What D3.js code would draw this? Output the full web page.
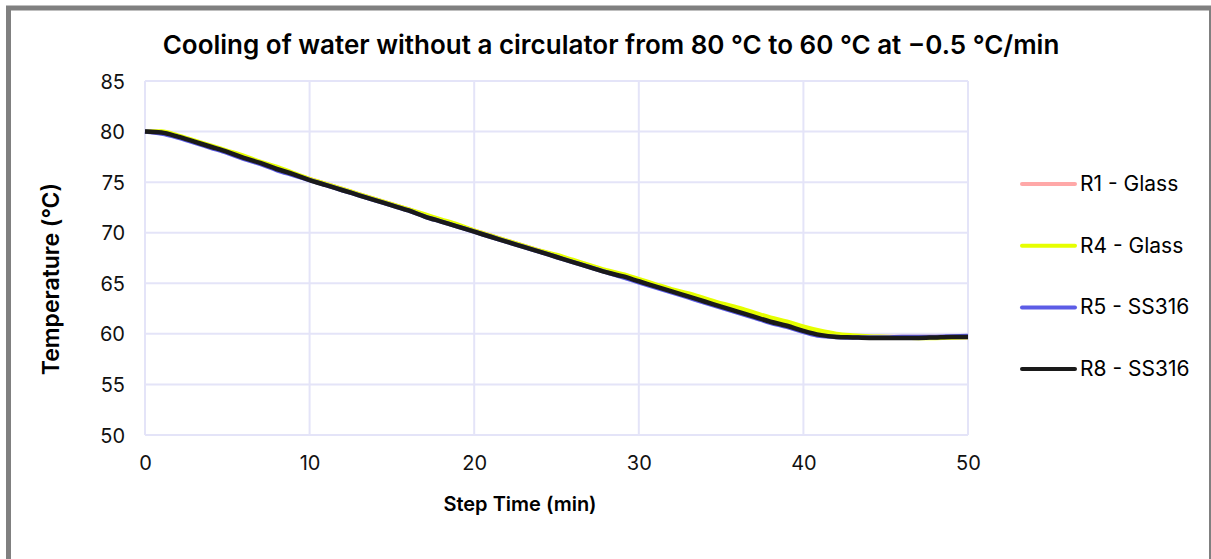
<!DOCTYPE html>
<html lang="en">
<head>
  <meta charset="UTF-8">
  <title>Cooling of water</title>
  <script src="https://d3js.org/d3.v7.min.js"></script>
  <style>
    body { margin: 0; background: #fff; }
    svg { display: block; font-family: Inter, "Open Sans", sans-serif; }
    .grid line { stroke: #e4e4f8; stroke-width: 2; }
    .title { font-size: 26px; font-weight: 600; }
    .axis-label { font-weight: 600; }
    .legend text { font-size: 21px; }
  </style>
</head>
<body>
  <div id="chart"></div>
  <script>
    // Data (minutes, °C)
    const steps = [0, 1, 2, 3, 4, 5, 6, 7, 8, 9, 10, 11, 12, 13, 14, 15, 16, 17, 18, 19, 20,
      21, 22, 23, 24, 25, 26, 27, 28, 29, 30, 31, 32, 33, 34, 35, 36, 37, 38, 39, 40,
      41, 42, 43, 44, 45, 46, 47, 48, 49, 50];
    const r1Glass = [80.0, 79.9, 79.5, 79.0, 78.5, 78.0, 77.5, 76.9, 76.4, 75.8,
      75.3, 74.8, 74.3, 73.8, 73.3, 72.8, 72.3, 71.7, 71.2, 70.7,
      70.2, 69.7, 69.2, 68.7, 68.2, 67.7, 67.2, 66.7, 66.2, 65.8,
      65.3, 64.8, 64.3, 63.8, 63.3, 62.9, 62.4, 61.9, 61.4, 61.0,
      60.5, 60.1, 59.85, 59.75, 59.7, 59.7, 59.7, 59.7, 59.7, 59.7, 59.7];
    const r4Glass = [80.0, 80.0, 79.6, 79.1, 78.6, 78.1, 77.6, 77.0, 76.5, 75.9,
      75.3, 74.8, 74.3, 73.8, 73.3, 72.8, 72.3, 71.8, 71.3, 70.8,
      70.2, 69.7, 69.2, 68.7, 68.2, 67.8, 67.3, 66.8, 66.3, 65.9,
      65.4, 64.9, 64.4, 64.0, 63.5, 63.0, 62.6, 62.1, 61.6, 61.2,
      60.7, 60.3, 60.0, 59.85, 59.75, 59.7, 59.65, 59.6, 59.6, 59.65, 59.7];
    const r5Ss316 = [80.0, 79.8, 79.4, 78.9, 78.4, 77.9, 77.3, 76.8, 76.2, 75.7,
      75.2, 74.7, 74.2, 73.7, 73.2, 72.7, 72.2, 71.6, 71.1, 70.6,
      70.1, 69.6, 69.1, 68.6, 68.1, 67.6, 67.1, 66.6, 66.1, 65.6,
      65.1, 64.6, 64.1, 63.6, 63.1, 62.6, 62.1, 61.6, 61.1, 60.7,
      60.2, 59.8, 59.7, 59.65, 59.65, 59.65, 59.7, 59.7, 59.7, 59.75, 59.8];
    const r8Ss316 = [80.0, 79.9, 79.5, 79.0, 78.5, 78.0, 77.4, 76.9, 76.3, 75.8,
      75.2, 74.7, 74.2, 73.7, 73.2, 72.7, 72.2, 71.6, 71.1, 70.6,
      70.1, 69.6, 69.1, 68.6, 68.1, 67.6, 67.1, 66.6, 66.1, 65.7,
      65.2, 64.7, 64.2, 63.7, 63.2, 62.7, 62.2, 61.7, 61.2, 60.8,
      60.3, 59.9, 59.7, 59.65, 59.6, 59.6, 59.6, 59.6, 59.65, 59.7, 59.7];
    const seriesNames = ['R1 - Glass', 'R4 - Glass', 'R5 - SS316', 'R8 - SS316'];
    const seriesValues = [r1Glass, r4Glass, r5Ss316, r8Ss316];
    const colors = ['#ffa8a8', '#e6ff00', '#5c5ce6', '#1a1a1a'];
    const xTicks = [0, 10, 20, 30, 40, 50];
    const yTicks = [50, 55, 60, 65, 70, 75, 80, 85];

    const width = 1211;
    const height = 559;
    const margin = { top: 81, left: 145, right: 243, bottom: 124 };
    const innerWidth = width - margin.left - margin.right;
    const innerHeight = height - margin.top - margin.bottom;

    const root = d3.select('#chart').append('svg')
      .attr('width', width)
      .attr('height', height);

    // Outer frame (bottom edge is off-screen in the original)
    root.append('path')
      .attr('d', 'M8.5,559 V8 H1211.5 V559')
      .attr('fill', 'none')
      .attr('stroke', '#808080')
      .attr('stroke-width', 5);

    const svg = root.append('g')
      .attr('transform', `translate(${margin.left},${margin.top})`);

    const x = d3.scaleLinear().domain([0, 50]).range([0, innerWidth]);
    const y = d3.scaleLinear().domain([50, 85]).range([innerHeight, 0]);

    // Grid
    svg.append('g').attr('class', 'grid')
      .selectAll('line').data(yTicks).join('line')
      .attr('x1', 0).attr('x2', innerWidth)
      .attr('y1', d => y(d)).attr('y2', d => y(d));
    svg.append('g').attr('class', 'grid')
      .selectAll('line').data(xTicks).join('line')
      .attr('x1', d => x(d)).attr('x2', d => x(d))
      .attr('y1', 0).attr('y2', innerHeight);

    // Axes (labels only)
    const xAxis = svg.append('g')
      .attr('transform', `translate(0,${innerHeight})`)
      .call(d3.axisBottom(x).tickValues(xTicks).tickSize(0).tickPadding(21));
    const yAxis = svg.append('g')
      .call(d3.axisLeft(y).tickValues(yTicks).tickSize(0).tickPadding(20));
    [xAxis, yAxis].forEach(a => {
      a.attr('font-family', 'Inter, sans-serif').attr('font-size', 20);
      a.select('.domain').remove();
      a.selectAll('.tick text').attr('fill', '#111').attr('dy', null);
    });
    xAxis.selectAll('.tick text').attr('y', 35);
    yAxis.selectAll('.tick text').attr('y', 7);

    // Lines
    const line = d3.line()
      .x((d, i) => x(steps[i]))
      .y(d => y(d))
      .curve(d3.curveMonotoneX);

    seriesValues.forEach((vals, i) => {
      svg.append('path')
        .datum(vals)
        .attr('fill', 'none')
        .attr('stroke', colors[i])
        .attr('stroke-width', 4.5)
        .attr('stroke-linejoin', 'round')
        .attr('d', line);
    });

    // Title
    root.append('text')
      .attr('class', 'title')
      .attr('x', 611).attr('y', 54)
      .attr('text-anchor', 'middle')
      .text('Cooling of water without a circulator from 80 °C to 60 °C at −0.5 °C/min');

    // Axis labels
    root.append('text')
      .attr('class', 'axis-label')
      .attr('font-size', 20)
      .attr('x', 520).attr('y', 511)
      .attr('text-anchor', 'middle')
      .text('Step Time (min)');
    root.append('text')
      .attr('class', 'axis-label')
      .attr('font-size', 23)
      .attr('transform', 'rotate(-90)')
      .attr('x', -279).attr('y', 59)
      .attr('text-anchor', 'middle')
      .text('Temperature (°C)');

    // Legend
    const legend = root.append('g').attr('class', 'legend')
      .attr('transform', 'translate(1022,184)');
    const item = legend.selectAll('g').data(seriesNames).join('g')
      .attr('transform', (d, i) => `translate(0,${i * 61.7})`);
    item.append('line')
      .attr('x1', 0).attr('x2', 53)
      .attr('stroke', (d, i) => colors[i])
      .attr('stroke-width', 4)
      .attr('stroke-linecap', 'round');
    item.append('text')
      .attr('x', 58).attr('y', 7)
      .text(d => d);
  </script>
</body>
</html>
